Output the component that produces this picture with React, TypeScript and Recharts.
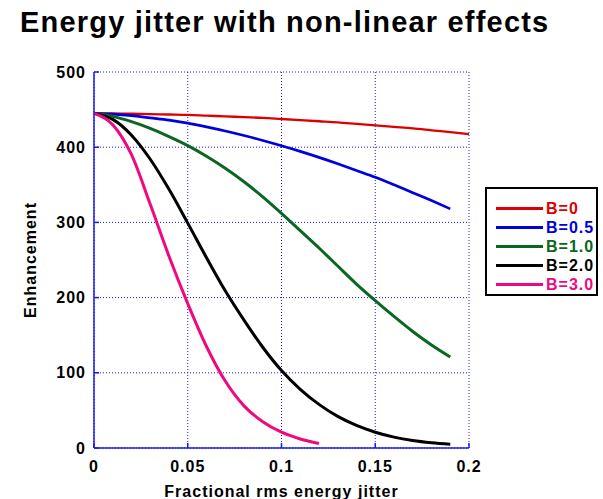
import React from "react"
import { LineChart, Line, XAxis, YAxis, CartesianGrid, Legend, Label } from "recharts"

const jitter = [0, 0.01, 0.02, 0.03, 0.04, 0.05, 0.06, 0.07, 0.08, 0.09, 0.1, 0.11, 0.12, 0.13, 0.14, 0.15, 0.16, 0.17, 0.18, 0.19, 0.2]

const b0 = [445, 445, 444.5, 444, 443.5, 443, 442, 441, 440, 439, 437.5, 436, 434.5, 433, 431, 429, 427, 425, 422.5, 420, 417.5]
const b05 = [445, 444, 442, 439, 436, 432, 427, 421.5, 415.5, 409, 402, 394.5, 386.5, 378, 369, 360, 350, 339.5, 329, 318]
const b10 = [445, 441, 434, 425, 414, 402, 388, 372, 354, 334, 312, 289, 266, 242, 218, 196, 175, 155, 137, 121]
const b20 = [445, 437, 416, 384, 344, 299, 253, 209, 170, 134, 103, 78, 58, 42, 30, 21, 14.5, 10, 7, 5]
const b30 = [445, 430, 390, 324, 255, 192, 135, 89, 56, 35, 21, 12, 6]

const xTicks = [0, 0.05, 0.1, 0.15, 0.2]
const yTicks = [0, 100, 200, 300, 400, 500]

const series = [
  { key: "b0", name: "B=0", color: "#dd0000", width: 2.3 },
  { key: "b05", name: "B=0.5", color: "#0000dd", width: 2.7 },
  { key: "b10", name: "B=1.0", color: "#0a6620", width: 3 },
  { key: "b20", name: "B=2.0", color: "#000000", width: 3 },
  { key: "b30", name: "B=3.0", color: "#ee0a7e", width: 3 },
]

const data = jitter.map((x, i) => ({
  x,
  b0: b0[i],
  b05: b05[i],
  b10: b10[i],
  b20: b20[i],
  b30: b30[i],
}))

const FONT = "'Liberation Sans', Arial, Helvetica, sans-serif"
const AXIS_BLUE = "#1a1aee"
const tickStyle = { fontFamily: FONT, fontSize: 16, fontWeight: "bold", fill: "#000", letterSpacing: 1 }

function LegendBox({ payload }: any) {
  return (
    <div
      style={{
        border: "2px solid #000",
        width: 113,
        height: 109,
        boxSizing: "border-box",
        paddingTop: 10,
        background: "#fff",
      }}
    >
      {(payload || []).map((entry: any) => (
        <div key={entry.value} style={{ display: "flex", alignItems: "center", height: 19 }}>
          <div style={{ marginLeft: 9, width: 47, height: 0, borderTop: `3px solid ${entry.color}` }} />
          <span
            style={{
              marginLeft: 3,
              color: entry.color,
              fontFamily: FONT,
              fontWeight: "bold",
              fontSize: 16,
              letterSpacing: 1,
              lineHeight: "19px",
            }}
          >
            {entry.value}
          </span>
        </div>
      ))}
    </div>
  )
}

export default function App() {
  return (
    <div style={{ position: "absolute", left: 0, top: 0, width: 603, height: 499, background: "#fff" }}>
      <div
        style={{
          position: "absolute",
          left: 20,
          top: 8,
          fontFamily: FONT,
          fontWeight: "bold",
          fontSize: 29,
          letterSpacing: 1.2,
          lineHeight: "29px",
          whiteSpace: "nowrap",
          color: "#000",
        }}
      >
        Energy jitter with non-linear effects
      </div>
      <LineChart width={603} height={499} data={data} margin={{ top: 72, left: 34, right: 134, bottom: 21 }}>
        <CartesianGrid stroke={AXIS_BLUE} strokeDasharray="1 2" />
        <XAxis
          dataKey="x"
          type="number"
          domain={[0, 0.2]}
          ticks={xTicks}
          tickFormatter={(v: number) => String(v)}
          height={30}
          stroke={AXIS_BLUE}
          strokeWidth={1.5}
          tickSize={-5}
          tickMargin={18}
          tick={tickStyle}
          interval={0}
        >
          <Label
            value="Fractional rms energy jitter"
            position="insideBottom"
            offset={-19}
            style={{ fontFamily: FONT, fontSize: 16, fontWeight: "bold", fill: "#000", letterSpacing: 1 }}
          />
        </XAxis>
        <XAxis
          xAxisId="top"
          dataKey="x"
          type="number"
          orientation="top"
          domain={[0, 0.2]}
          ticks={xTicks}
          height={0}
          stroke={AXIS_BLUE}
          strokeWidth={1.5}
          tickSize={-5}
          tick={false}
        />
        <YAxis
          type="number"
          domain={[0, 500]}
          ticks={yTicks}
          width={60}
          stroke={AXIS_BLUE}
          strokeWidth={1.5}
          tickSize={-5}
          tickMargin={13}
          tick={tickStyle}
          interval={0}
        >
          <Label
            value="Enhancement"
            angle={-90}
            position="insideLeft"
            offset={-4}
            style={{ fontFamily: FONT, fontSize: 16, fontWeight: "bold", fill: "#000", letterSpacing: 1, textAnchor: "middle" }}
          />
        </YAxis>
        <YAxis
          yAxisId="right"
          type="number"
          orientation="right"
          domain={[0, 500]}
          ticks={yTicks}
          width={0}
          stroke={AXIS_BLUE}
          strokeWidth={1.5}
          tickSize={-5}
          tick={false}
        />
        <Legend
          layout="vertical"
          align="center"
          verticalAlign="middle"
          content={<LegendBox />}
          wrapperStyle={{ left: 485, top: 187, width: 113, height: 109 }}
        />
        {series.map((s) => (
          <Line
            key={s.key}
            dataKey={s.key}
            name={s.name}
            type="monotone"
            stroke={s.color}
            strokeWidth={s.width}
            dot={false}
            activeDot={false}
            isAnimationActive={false}
          />
        ))}
      </LineChart>
    </div>
  )
}
